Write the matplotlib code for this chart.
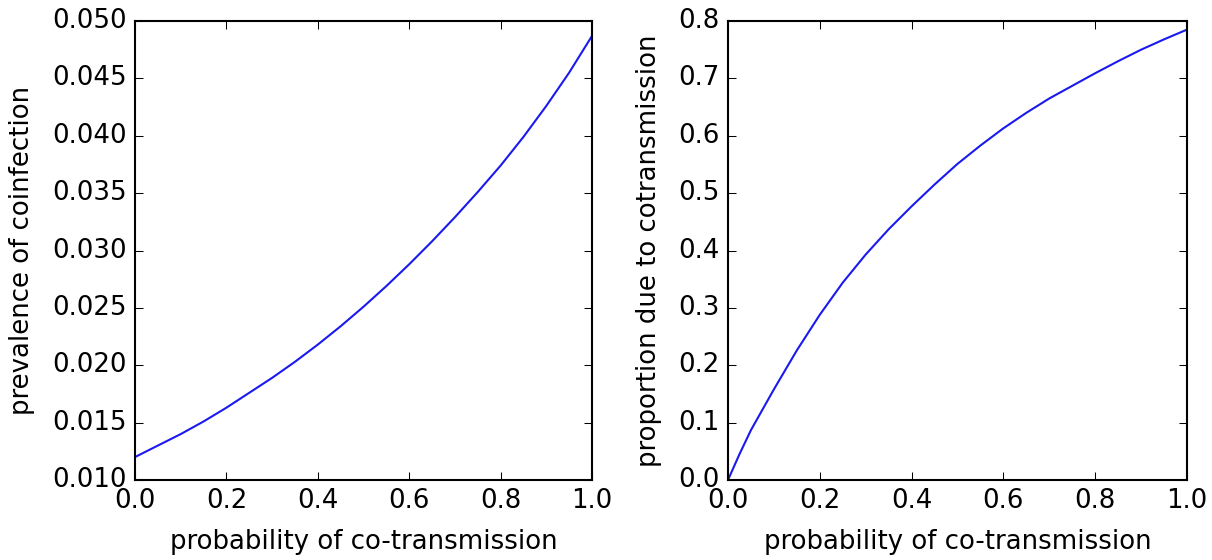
import matplotlib
matplotlib.use("Agg")
import matplotlib.pyplot as plt

# probability of co-transmission (x values)
p_cotrans = [0.00, 0.025, 0.05, 0.10, 0.15, 0.20, 0.25, 0.30, 0.35, 0.40, 0.45, 0.50,
             0.55, 0.60, 0.65, 0.70, 0.75, 0.80, 0.85, 0.90, 0.95, 1.00]

# prevalence of coinfection (left panel)
prevalence = [0.0120, 0.0125, 0.0130, 0.0140, 0.0151, 0.0163, 0.0176, 0.0189, 0.0203,
              0.0218, 0.0234, 0.0251, 0.0269, 0.0288, 0.0308, 0.0329, 0.0351,
              0.0374, 0.0399, 0.0426, 0.0455, 0.0487]

# proportion due to cotransmission (right panel)
proportion = [0.000, 0.045, 0.087, 0.158, 0.226, 0.288, 0.344, 0.393, 0.437, 0.477,
              0.515, 0.551, 0.583, 0.613, 0.640, 0.665, 0.687, 0.709, 0.730,
              0.750, 0.768, 0.785]

xlabel = "probability of co-transmission"
ylabel_left = "prevalence of coinfection"
ylabel_right = "proportion due to cotransmission"

plt.style.use("classic")
plt.rcParams["font.family"] = ["DejaVu Sans"]
plt.rcParams["font.size"] = 12.5

fig = plt.figure(figsize=(1212 / 150, 560 / 150), dpi=150, facecolor="white")

W, H = 1212.0, 560.0
ax1 = fig.add_axes([135 / W, 1 - 480 / H, (592 - 135) / W, (480 - 21) / H])
ax2 = fig.add_axes([728 / W, 1 - 480 / H, (1187 - 728) / W, (480 - 21) / H])

ax1.plot(p_cotrans, prevalence, color="#1a1aee", linewidth=1.0)
ax1.set_xlim(0.0, 1.0)
ax1.set_ylim(0.010, 0.050)
ax1.set_xlabel(xlabel, labelpad=7)
ax1.set_ylabel(ylabel_left, labelpad=8)
ax1.set_yticks([0.010, 0.015, 0.020, 0.025, 0.030, 0.035, 0.040, 0.045, 0.050])
ax1.set_yticklabels(["0.010", "0.015", "0.020", "0.025", "0.030", "0.035",
                     "0.040", "0.045", "0.050"])

ax2.plot(p_cotrans, proportion, color="#1a1aee", linewidth=1.0)
ax2.set_xlim(0.0, 1.0)
ax2.set_ylim(0.0, 0.8)
ax2.set_xlabel(xlabel, labelpad=7)
ax2.set_ylabel(ylabel_right, labelpad=8)

for ax in (ax1, ax2):
    ax.set_xticks([0.0, 0.2, 0.4, 0.6, 0.8, 1.0])
    ax.set_xticklabels(["0.0", "0.2", "0.4", "0.6", "0.8", "1.0"])
    ax.set_facecolor("white")

fig.savefig("out.png", dpi=150, facecolor="white")
